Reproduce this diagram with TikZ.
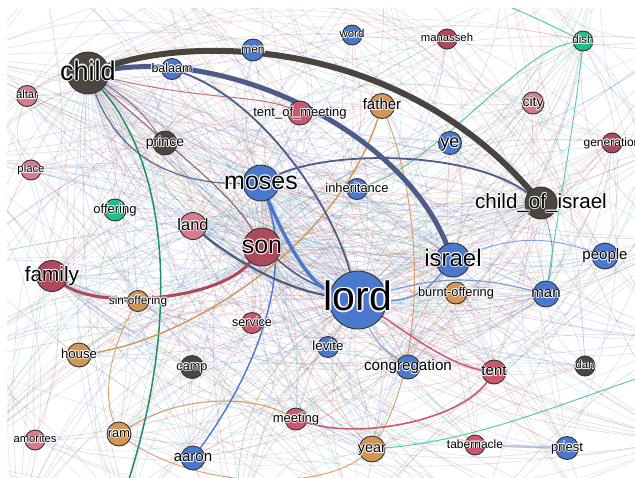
\documentclass[tikz,border=0pt]{standalone}
\usepackage{fontspec}
\setmainfont{Liberation Sans}
\usetikzlibrary{calc}
\pgfdeclarelayer{edges}
\pgfsetlayers{edges,main}

% vertex fills
\definecolor{vblue}{HTML}{4A78CC}
\definecolor{vdark}{HTML}{4B463F}
\definecolor{vmaroon}{HTML}{B0485C}
\definecolor{vpink}{HTML}{D67C8A}
\definecolor{vred}{HTML}{CC586E}
\definecolor{vtan}{HTML}{D29655}
\definecolor{vgreen}{HTML}{20BE8C}
\definecolor{vline}{HTML}{333333}
% edge colours
\definecolor{cnavy}{HTML}{4D5B88}
\definecolor{cdark}{HTML}{4A443E}
\definecolor{cgreen}{HTML}{1F8F6A}
\definecolor{eblue}{HTML}{5A7FD0}
\definecolor{ered}{HTML}{B85068}
\definecolor{epink}{HTML}{D88898}
\definecolor{etan}{HTML}{D09050}
\definecolor{egreen}{HTML}{30C090}
\definecolor{edark}{HTML}{706050}
\definecolor{ebrown}{HTML}{8A5060}
\definecolor{egrey}{HTML}{9AA8D8}

\tikzset{
  vx/.style={circle, draw=vline, line width=0.9pt, inner sep=0pt},
  e/.style={line cap=round},
  faint/.style={line width=0.55pt, draw opacity=0.25},
  halo/.style={anchor=base, inner sep=0pt, text=white, text opacity=0.85},
  lbl/.style={anchor=base, inner sep=0pt, text=black},
}

% vertex: name, x, y, radius, fill
\newcommand\vtx[5]{\node[vx, fill=#5, minimum size=2*#4] (#1) at (#2,#3) {};}
% label with white halo: name, size, text
\newcommand\vlabel[3]{%
  \foreach \dx/\dy [count=\k] in {1/0,-1/0,0/1,0/-1,0.7/0.7,0.7/-0.7,-0.7/0.7,-0.7/-0.7}{%
    \node[halo] (#1-h\k) at ($(#1.center)+({\dx*max(0.8,0.04*#2)},{0.26*#2+\dy*max(0.8,0.04*#2)})$) {\fontsize{#2}{#2}\selectfont #3};}%
  \node[lbl] (#1-t) at ($(#1.center)+(0,{0.26*#2})$) {\fontsize{#2}{#2}\selectfont #3};}

% endpoint lists for the background mesh
\def\vlist{{"child","men","word","manasseh","dish","balaam","altar","tentofmeeting","father","city","prince","ye","generation","place","moses","inheritance","childofisrael","offering","land","son","israel","people","family","lord","burntoffering","man","sinoffering","service","levite","house","camp","congregation","tent","dan","meeting","amorites","ram","aaron","year","tabernacle","priest","lord","lord","lord","lord","lord","lord","lord","lord","child","child","child","israel","israel","israel","moses","moses","moses","son","son","son","childofisrael","childofisrael","family","family","congregation","man","land","year"}}
\def\nvm{68}
\def\blist{{"bT1","bT2","bT3","bT4","bT5","bT6","bB1","bB2","bB3","bB4","bB5","bB6","bL1","bL2","bL3","bL4","bL5","bR1","bR2","bR3","bR4","bR5"}}
\def\nbm{21}
\def\clist{{"eblue","eblue","eblue","eblue","ered","epink","ered","etan","egreen","edark"}}

\begin{document}
\begin{tikzpicture}[x=1pt,y=-1pt]
\useasboundingbox (0,0) rectangle (635,477);

% ---------- vertices ----------
\vtx{child}{88}{73}{21}{vdark}
\vtx{men}{253}{50}{11}{vblue}
\vtx{word}{352}{35}{10}{vblue}
\vtx{manasseh}{447}{39}{10}{vmaroon}
\vtx{dish}{583}{41}{10}{vgreen}
\vtx{balaam}{172}{69}{10.5}{vblue}
\vtx{altar}{27}{96}{10.5}{vpink}
\vtx{tentofmeeting}{300}{113}{12}{vred}
\vtx{father}{382}{106}{12.5}{vtan}
\vtx{city}{533}{103}{11}{vpink}
\vtx{prince}{165}{143}{12}{vdark}
\vtx{ye}{450}{143}{11.5}{vblue}
\vtx{generation}{612}{143}{10}{vmaroon}
\vtx{place}{31}{170}{10}{vpink}
\vtx{moses}{261}{183}{18}{vblue}
\vtx{inheritance}{357}{189}{10.5}{vblue}
\vtx{childofisrael}{541}{203}{16}{vdark}
\vtx{offering}{115}{210}{11}{vgreen}
\vtx{land}{193}{226}{13.5}{vpink}
\vtx{son}{262}{247}{19}{vmaroon}
\vtx{israel}{453}{260}{17}{vblue}
\vtx{people}{605}{256}{13}{vblue}
\vtx{family}{52}{276}{15.5}{vmaroon}
\vtx{lord}{358}{300}{29}{vblue}
\vtx{burntoffering}{456}{293}{11}{vtan}
\vtx{man}{546}{294}{13}{vblue}
\vtx{sinoffering}{138}{301}{10.5}{vtan}
\vtx{service}{252}{323}{10.5}{vred}
\vtx{levite}{328}{347}{10.5}{vblue}
\vtx{house}{79}{355}{12}{vtan}
\vtx{camp}{192}{367}{11.5}{vdark}
\vtx{congregation}{408}{367}{12}{vblue}
\vtx{tent}{494}{372}{12}{vred}
\vtx{dan}{585}{366}{10}{vdark}
\vtx{meeting}{296}{419}{11}{vred}
\vtx{amorites}{35}{440}{10}{vpink}
\vtx{ram}{119}{434}{12}{vtan}
\vtx{aaron}{193}{458}{12}{vblue}
\vtx{year}{372}{449}{13}{vtan}
\vtx{tabernacle}{475}{445}{10}{vred}
\vtx{priest}{567}{448}{11.5}{vblue}

% off-panel endpoints
\coordinate (bT1) at (40,-40);  \coordinate (bT2) at (150,-40);
\coordinate (bT3) at (260,-40); \coordinate (bT4) at (380,-40);
\coordinate (bT5) at (500,-40); \coordinate (bT6) at (600,-40);
\coordinate (bB1) at (20,520);  \coordinate (bB2) at (130,520);
\coordinate (bB3) at (240,520); \coordinate (bB4) at (360,520);
\coordinate (bB5) at (480,520); \coordinate (bB6) at (600,520);
\coordinate (bL1) at (-40,60);  \coordinate (bL2) at (-40,160);
\coordinate (bL3) at (-40,260); \coordinate (bL4) at (-40,360);
\coordinate (bL5) at (-40,460);
\coordinate (bR1) at (680,40);  \coordinate (bR2) at (680,140);
\coordinate (bR3) at (680,240); \coordinate (bR4) at (680,340);
\coordinate (bR5) at (680,440);
\coordinate (gEnd) at (122,500);
\coordinate (gTop) at (470,-5);
\coordinate (gR) at (645,376);

% ---------- edges ----------
\begin{pgfonlayer}{edges}
\fill[white] (0,0) rectangle (635,477);
\begin{scope}
\clip (7,8) rectangle (635,477);
\pgfmathsetseed{2718}
% faint mesh between vertices
\foreach \i in {1,...,430}{%
  \pgfmathrandominteger{\ra}{0}{\nvm}%
  \pgfmathrandominteger{\rb}{0}{\nvm}%
  \pgfmathrandominteger{\rc}{0}{9}%
  \pgfmathrandominteger{\bd}{8}{40}%
  \pgfmathsetmacro{\na}{\vlist[\ra]}%
  \pgfmathsetmacro{\nb}{\vlist[\rb]}%
  \pgfmathsetmacro{\ec}{\clist[\rc]}%
  \ifx\na\nb\else
    \draw[faint, draw=\ec] (\na) to[bend left=\bd] (\nb);
  \fi
}
% faint mesh towards vertices beyond the frame
\foreach \i in {1,...,240}{%
  \pgfmathrandominteger{\ra}{0}{\nbm}%
  \pgfmathrandominteger{\rb}{0}{\nvm}%
  \pgfmathrandominteger{\rc}{0}{9}%
  \pgfmathrandominteger{\bd}{5}{35}%
  \pgfmathsetmacro{\na}{\blist[\ra]}%
  \pgfmathsetmacro{\nb}{\vlist[\rb]}%
  \pgfmathsetmacro{\ec}{\clist[\rc]}%
  \draw[faint, draw=\ec] (\na) to[bend left=\bd] (\nb);
}
\foreach \i in {1,...,60}{%
  \pgfmathrandominteger{\ra}{0}{\nbm}%
  \pgfmathrandominteger{\rb}{0}{\nbm}%
  \pgfmathrandominteger{\rc}{0}{9}%
  \pgfmathrandominteger{\bd}{5}{30}%
  \pgfmathsetmacro{\na}{\blist[\ra]}%
  \pgfmathsetmacro{\nb}{\blist[\rb]}%
  \pgfmathsetmacro{\ec}{\clist[\rc]}%
  \ifx\na\nb\else
    \draw[faint, draw=\ec] (\na) to[bend left=\bd] (\nb);
  \fi
}

% stronger ties
\draw[e, draw=eblue, line width=1.5pt, draw opacity=0.8] (lord) to[bend right=25] (israel);
\draw[e, draw=eblue, line width=1.2pt, draw opacity=0.7] (lord) to[bend left=15] (man);
\draw[e, draw=eblue, line width=1pt, draw opacity=0.7] (israel) to[bend left=20] (people);
\draw[e, draw=eblue, line width=0.9pt, draw opacity=0.7] (childofisrael) to[bend left=15] (man);
\draw[e, draw=eblue, line width=1pt, draw opacity=0.7] (lord) to[bend right=15] (congregation);
\draw[e, draw=etan, line width=1pt, draw opacity=0.8] (father) .. controls (420,200) and (430,350) .. (year);
\draw[e, draw=etan, line width=1.1pt, draw opacity=0.85] (ram) .. controls (180,395) and (250,395) .. (meeting);
\draw[e, draw=etan, line width=1pt, draw opacity=0.8] (ram) .. controls (200,490) and (320,490) .. (year);
\draw[e, draw=etan, line width=0.9pt, draw opacity=0.8] (ram) .. controls (100,390) and (115,340) .. (sinoffering);
\draw[e, draw=egrey, line width=2.5pt, draw opacity=0.6] (tabernacle) -- (priest);
\draw[e, draw=egreen, line width=1pt, draw opacity=0.8] (dish) .. controls (520,50) and (440,160) .. (inheritance);
\draw[e, draw=egreen, line width=1pt, draw opacity=0.8] (dish) .. controls (540,20) and (500,0) .. (gTop);
\draw[e, draw=egreen, line width=0.9pt, draw opacity=0.8] (dish) .. controls (575,120) and (560,200) .. (man);
\draw[e, draw=egreen, line width=1pt, draw opacity=0.8] (year) .. controls (480,440) and (570,400) .. (gR);
\draw[e, draw=ered, line width=1pt, draw opacity=0.8] (child) .. controls (200,100) and (260,95) .. (tentofmeeting);
\draw[e, draw=ebrown, line width=1pt, draw opacity=0.8] (child) to[bend left=10] (prince);
\draw[e, draw=ebrown, line width=1.2pt, draw opacity=0.85] (child) .. controls (160,140) and (230,190) .. (son);
\draw[e, draw=cnavy, line width=1.3pt, draw opacity=0.85] (child) .. controls (120,160) and (180,185) .. (moses);
\draw[e, draw=cgreen, line width=1.5pt] (child) .. controls (175,175) and (178,340) .. (gEnd);
\draw[e, draw=vblue, line width=1.4pt] (aaron) .. controls (250,380) and (295,280) .. (moses);
\draw[e, draw=vred, line width=1.4pt] (lord) .. controls (410,335) and (450,365) .. (tent);
\draw[e, draw=vred, line width=1.6pt] (tent) .. controls (460,420) and (360,440) .. (meeting);
\draw[e, draw=vtan, line width=1.4pt] (father) .. controls (335,250) and (185,340) .. (house);
\draw[e, draw=cnavy, line width=1.5pt] (son) to[bend right=10] (lord);
\draw[e, draw=cnavy, line width=1.8pt] (balaam) .. controls (260,100) and (330,200) .. (lord);
\draw[e, draw=cnavy, line width=1.8pt] (moses) .. controls (330,150) and (470,150) .. (childofisrael);
\draw[e, draw=cnavy, line width=2.2pt] (land) .. controls (240,265) and (290,290) .. (lord);
\draw[e, draw=vmaroon, line width=3pt] (son) .. controls (220,300) and (100,310) .. (family);
\draw[e, draw=vblue, line width=3.5pt] (moses) .. controls (285,240) and (310,285) .. (lord);
\draw[e, draw=cnavy, line width=5pt] (child) .. controls (230,50) and (400,130) .. (israel);
\draw[e, draw=cdark, line width=6pt] (child) .. controls (200,35) and (400,40) .. (childofisrael);
\end{scope}
\end{pgfonlayer}

% ---------- labels ----------
\vlabel{child}{27}{child}
\vlabel{men}{12}{men}
\vlabel{word}{11.5}{word}
\vlabel{manasseh}{11.3}{manasseh}
\vlabel{dish}{11.5}{dish}
\vlabel{balaam}{12.5}{balaam}
\vlabel{altar}{11.3}{altar}
\vlabel{tentofmeeting}{13}{tent\_of\_meeting}
\vlabel{father}{15}{father}
\vlabel{city}{14}{city}
\vlabel{prince}{14}{prince}
\vlabel{ye}{18}{ye}
\vlabel{generation}{12}{generation}
\vlabel{place}{11.3}{place}
\vlabel{moses}{25}{moses}
\vlabel{inheritance}{12.9}{inheritance}
\vlabel{childofisrael}{20.6}{child\_of\_israel}
\vlabel{offering}{13}{offering}
\vlabel{land}{16.4}{land}
\vlabel{son}{25}{son}
\vlabel{israel}{24}{israel}
\vlabel{people}{15}{people}
\vlabel{family}{20.7}{family}
\vlabel{lord}{41}{lord}
\vlabel{burntoffering}{12.8}{burnt-offering}
\vlabel{man}{15}{man}
\vlabel{sinoffering}{11.8}{sin-offering}
\vlabel{service}{12.6}{service}
\vlabel{levite}{13.3}{levite}
\vlabel{house}{13.2}{house}
\vlabel{camp}{12.7}{camp}
\vlabel{congregation}{15.2}{congregation}
\vlabel{tent}{15}{tent}
\vlabel{dan}{11.4}{dan}
\vlabel{meeting}{13}{meeting}
\vlabel{amorites}{11.2}{amorites}
\vlabel{ram}{12.8}{ram}
\vlabel{aaron}{15}{aaron}
\vlabel{year}{14.4}{year}
\vlabel{tabernacle}{12}{tabernacle}
\vlabel{priest}{13}{priest}
\end{tikzpicture}
\end{document}
